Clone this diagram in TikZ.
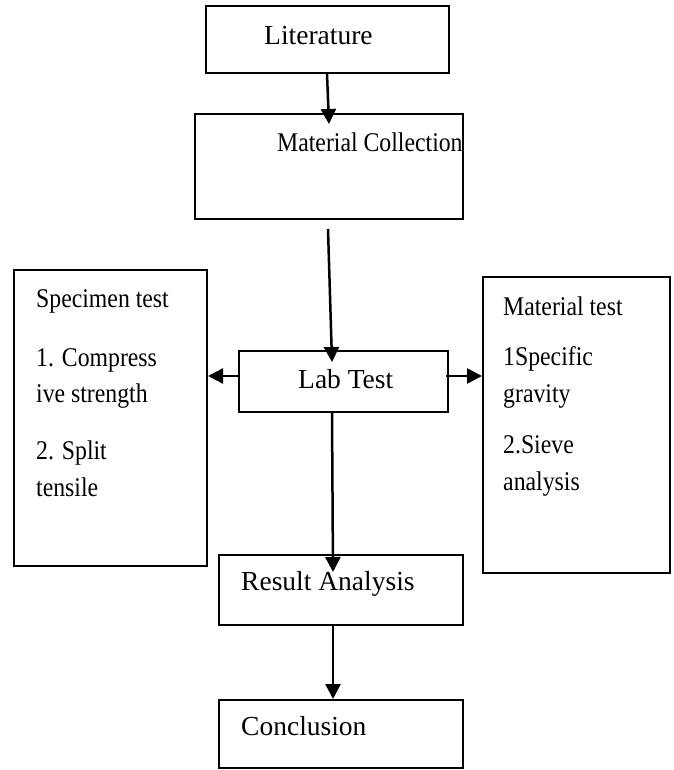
\documentclass[tikz,border=0pt]{standalone}
\usepackage{fontspec}
\setmainfont{Liberation Serif}
\newfontfamily\narrowserif[FakeStretch=0.88]{Liberation Serif}
\usetikzlibrary{arrows.meta}
\begin{document}
\begin{tikzpicture}[x=1pt,y=-1pt,
  box/.style={draw=black, line width=2pt, rectangle, inner sep=0pt},
  txt/.style={anchor=base west, inner sep=0pt, font=\fontsize{27.5}{33}\selectfont},
  ntxt/.style={anchor=base west, inner sep=0pt, font=\narrowserif\fontsize{27}{33}\selectfont},
  arr/.style={line width=2.5pt, -{Triangle[length=15pt,width=15pt]}}]
\useasboundingbox (0,0) rectangle (673,770);

% boxes
\node[box, minimum width=243pt, minimum height=67pt]  (lit)  at (327.5,39.5) {};
\node[box, minimum width=268pt, minimum height=105pt] (mc)   at (329,166.5) {};
\node[box, minimum width=193pt, minimum height=296pt] (spec) at (110.5,418) {};
\node[box, minimum width=209pt, minimum height=61pt]  (lab)  at (343.5,381.5) {};
\node[box, minimum width=187pt, minimum height=296pt] (mat)  at (576.5,425) {};
\node[box, minimum width=244pt, minimum height=70pt]  (res)  at (341,590) {};
\node[box, minimum width=244pt, minimum height=68pt]  (con)  at (341,734) {};

% labels
\node[txt]  (litT) at (264,45)  {Literature};
\node[ntxt] (mcT)  at (277,152) {Material Collection};
\node[txt]  (labT) at (298,388) {Lab Test};
\node[txt]  (resT) at (241,590) {Result Analysis};
\node[txt]  (conT) at (241,735) {Conclusion};

\node[ntxt] (s1) at (36,307) {Specimen test};
\node[ntxt] (s2) at (36,366) {1. Compress};
\node[ntxt] (s3) at (36,402) {ive strength};
\node[ntxt] (s4) at (36,459) {2. Split};
\node[ntxt] (s5) at (36,496) {tensile};

\node[ntxt] (m1) at (503,315) {Material test};
\node[ntxt] (m2) at (503,365) {1Specific};
\node[ntxt] (m3) at (503,402) {gravity};
\node[ntxt] (m4) at (503,453) {2.Sieve};
\node[ntxt] (m5) at (503,490) {analysis};

% connectors
\draw[arr] ([xshift=-0.5pt]lit.south) -- ([yshift=-11pt]mc.north);
\draw[arr] ([xshift=-1pt,yshift=-9pt]mc.south) -- ([xshift=-11.5pt,yshift=-12pt]lab.north);
\draw[arr] ([yshift=5.5pt]lab.west) -- ([yshift=5.5pt]lab.west -| spec.east);
\draw[arr] ([xshift=-3pt,yshift=5.5pt]lab.east) -- ([yshift=5.5pt]lab.east -| mat.west);
\draw[arr] ([xshift=-11.5pt]lab.south) -- ([xshift=-8pt,yshift=-18pt]res.north);
\draw[arr] ([xshift=-8pt]res.south) -- ([xshift=-8pt]con.north);
\end{tikzpicture}
\end{document}
